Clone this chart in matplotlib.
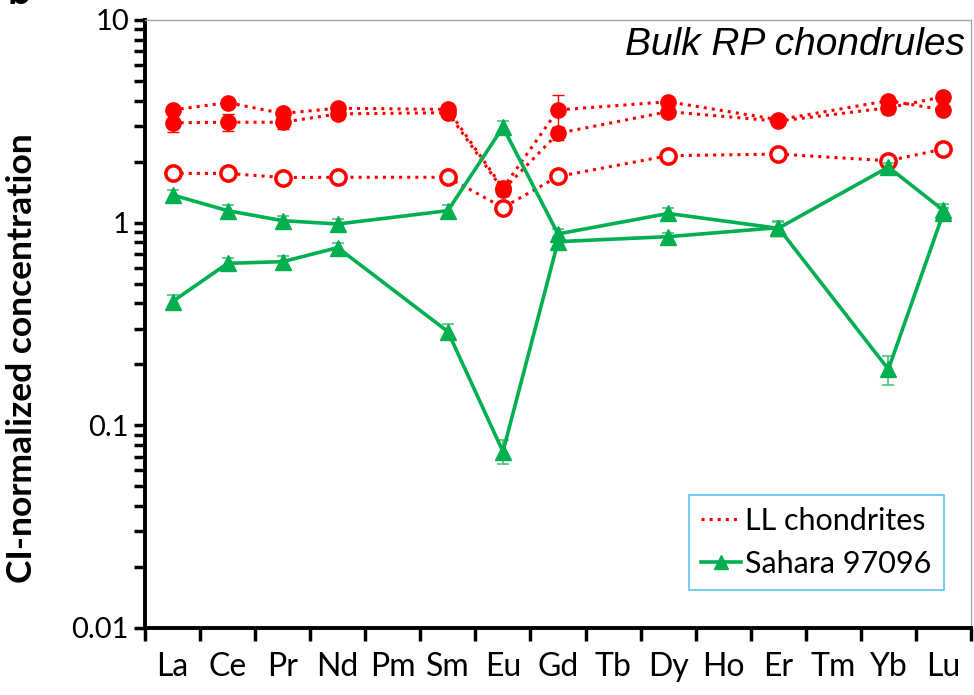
import numpy as np
import matplotlib.pyplot as plt
from matplotlib.lines import Line2D
from matplotlib.ticker import FixedLocator, NullFormatter

elements = ['La', 'Ce', 'Pr', 'Nd', 'Pm', 'Sm', 'Eu', 'Gd', 'Tb', 'Dy', 'Ho', 'Er', 'Tm', 'Yb', 'Lu']
measured = ['La', 'Ce', 'Pr', 'Nd', 'Sm', 'Eu', 'Gd', 'Dy', 'Er', 'Yb', 'Lu']

# LL chondrites (filled circles, two chondrules)
ll_a = [3.60, 3.91, 3.46, 3.67, 3.62, 1.48, 3.60, 3.95, 3.22, 4.00, 3.60]
ll_a_err = [0.15, 0.12, 0.15, 0.12, 0.12, 0.08, 0.65, 0.12, 0.12, 0.15, 0.12]
ll_b = [3.11, 3.13, 3.13, 3.44, 3.49, 1.45, 2.76, 3.53, 3.17, 3.69, 4.18]
ll_b_err = [0.30, 0.30, 0.22, 0.12, 0.12, 0.10, 0.20, 0.12, 0.15, 0.25, 0.12]
# LL chondrites (open circles, mean)
ll_mean = [1.75, 1.75, 1.67, 1.675, 1.675, 1.186, 1.69, 2.14, 2.18, 2.02, 2.31]

# Sahara 97096 (two chondrules)
sa_a = [1.37, 1.146, 1.023, 0.985, 1.146, 2.96, 0.88, 1.11, 0.938, 1.88, 1.15]
sa_a_err = [0.08, 0.07, 0.06, 0.06, 0.07, 0.20, 0.05, 0.07, 0.07, 0.10, 0.08]
sa_b = [0.408, 0.63, 0.642, 0.753, 0.29, 0.0742, 0.806, 0.853, 0.945, 0.189, 1.12]
sa_b_err = [0.03, 0.04, 0.04, 0.04, 0.025, 0.010, 0.04, 0.04, 0.07, 0.03, 0.06]

red = '#FF0000'
green = '#00B050'
green_err = '#4CC07F'

x = [elements.index(e) for e in measured]

plt.rcParams['font.family'] = ['Lato', 'DejaVu Sans']

fig = plt.figure(figsize=(9.74, 6.95), dpi=100)
ax = fig.add_axes([145 / 974, 1 - 628 / 695, 826 / 974, 608 / 695])

for vals, err in [(ll_a, ll_a_err), (ll_b, ll_b_err)]:
    ax.errorbar(x, vals, yerr=err, color=red, ls=':', lw=2.2, marker='o', ms=11,
                mfc=red, mec=red, ecolor=red, elinewidth=1, capsize=4, capthick=1, zorder=3)
ax.plot(x, ll_mean, color=red, ls=':', lw=2.2, marker='o', ms=11,
        mfc='white', mec=red, mew=2.5, zorder=3)

for vals, err in [(sa_a, sa_a_err), (sa_b, sa_b_err)]:
    ax.errorbar(x, vals, yerr=err, color=green, ls='-', lw=2.6, marker='^', ms=11,
                mfc=green, mec=green, ecolor=green_err, elinewidth=1.2, capsize=4,
                capthick=1.2, zorder=4)

ax.set_yscale('log')
ax.set_ylim(0.01, 10)
ax.set_xlim(-0.5, 14.5)
ax.set_yticks([0.01, 0.1, 1, 10])
ax.set_yticklabels(['0.01', '0.1', '1', '10'])
ax.yaxis.set_minor_locator(FixedLocator(
    [m * 10.0 ** d for d in range(-2, 1) for m in range(2, 10)]))
ax.yaxis.set_minor_formatter(NullFormatter())

ax.set_xticks(np.arange(len(elements)))
ax.set_xticklabels(elements)
ax.xaxis.set_minor_locator(FixedLocator(np.arange(-0.5, 15, 1)))
ax.tick_params(axis='x', which='major', length=0, pad=17, labelsize=23)
ax.tick_params(axis='x', which='minor', length=9, width=2.5, direction='out')
ax.tick_params(axis='y', which='both', length=8, width=2.5, direction='out', labelsize=21)

for side in ['left', 'bottom']:
    ax.spines[side].set_linewidth(2.8)
for side in ['top', 'right']:
    ax.spines[side].set_color('#A6A6A6')
    ax.spines[side].set_linewidth(1)

fig.text(22 / 974, 1 - 358 / 695, 'CI-normalized concentration', rotation=90,
         ha='center', va='center', fontsize=25.5, fontweight='bold')

ax.text(0.993, 0.959, 'Bulk RP chondrules', transform=ax.transAxes, ha='right', va='center',
        fontsize=28, style='italic', family='Liberation Sans')

handles = [Line2D([], [], color=red, ls=':', lw=2.2),
           Line2D([], [], color=green, ls='-', lw=2.6, marker='^', ms=10)]
leg = ax.legend(handles, ['LL chondrites', 'Sahara 97096'], loc='lower right',
                bbox_to_anchor=(0.967, 0.062), fontsize=22, frameon=True, fancybox=False,
                handlelength=1.3, handletextpad=0.15, borderpad=0.4, labelspacing=0.5,
                borderaxespad=0)
leg.get_frame().set_edgecolor('#33B5E8')
leg.get_frame().set_linewidth(1.2)

fig.text(0.008, 1.012, 'b', fontsize=30, fontweight='bold', ha='left', va='center')

fig.savefig('out.png', dpi=100)
